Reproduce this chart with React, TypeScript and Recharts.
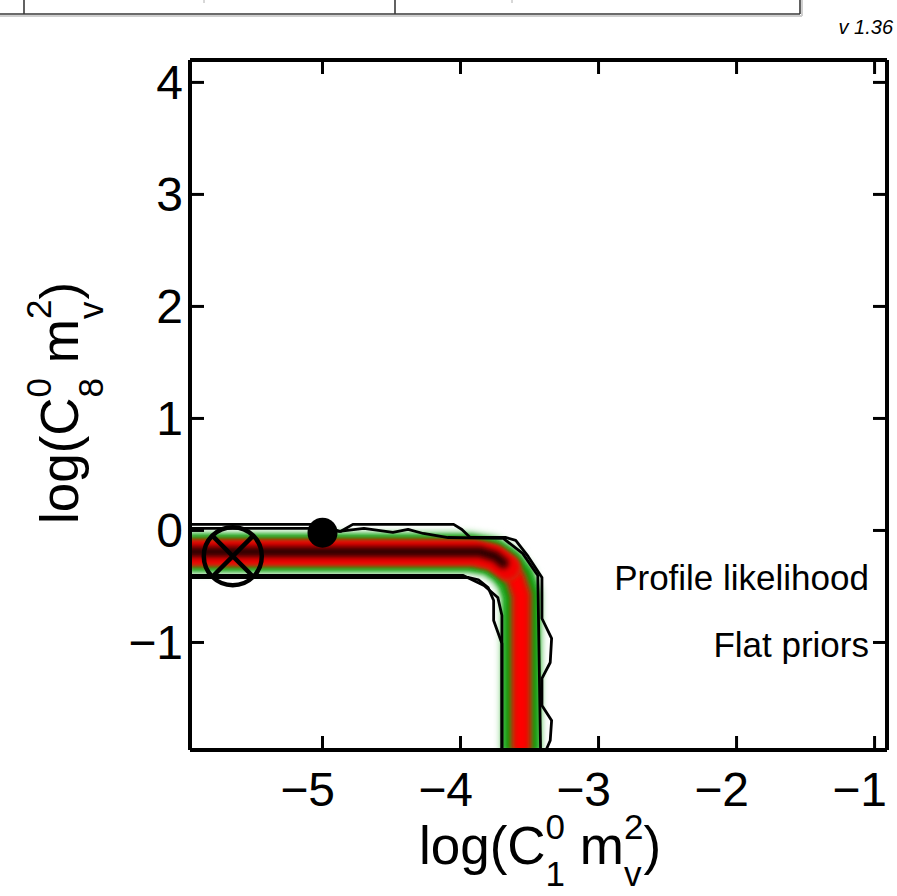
import React from "react";
import { ComposedChart, Line, Scatter, XAxis, YAxis } from "recharts";

const FONT = '"Liberation Sans", Arial, Helvetica, sans-serif';

// axis ranges and ticks
const xDomain = [-5.96, -0.91];
const yDomain = [-1.96, 4.2];
const xTicks = [-5, -4, -3, -2, -1];
const yTicks = [-1, 0, 1, 2, 3, 4];

// ridge of the profile likelihood (centre line of the coloured band)
const bandPath = [
  { x: -5.96, y: -0.2 },
  { x: -3.93, y: -0.2 },
  { x: -3.78, y: -0.23 },
  { x: -3.67, y: -0.32 },
  { x: -3.6, y: -0.43 },
  { x: -3.56, y: -0.58 },
  { x: -3.56, y: -1.96 },
];

// horizontal arm, where the red part is wider
const armPath = [
  { x: -5.96, y: -0.2 },
  { x: -3.9, y: -0.2 },
  { x: -3.76, y: -0.24 },
  { x: -3.66, y: -0.33 },
];

// darkest part of the ridge, along the horizontal arm only
const corePath = [
  { x: -5.96, y: -0.19 },
  { x: -3.86, y: -0.19 },
  { x: -3.75, y: -0.23 },
  { x: -3.69, y: -0.29 },
];

// outer contour (closed, runs along the frame where it leaves the plot)
const outerContour = [
  { x: -5.96, y: 0.054 },
  { x: -5.09, y: 0.054 },
  { x: -4.98, y: 0.036 },
  { x: -4.87, y: -0.009 },
  { x: -4.78, y: 0.054 },
  { x: -4.44, y: 0.054 },
  { x: -4.05, y: 0.054 },
  { x: -3.99, y: 0.009 },
  { x: -3.93, y: -0.063 },
  { x: -3.67, y: -0.063 },
  { x: -3.6, y: -0.089 },
  { x: -3.51, y: -0.232 },
  { x: -3.41, y: -0.42 },
  { x: -3.41, y: -0.786 },
  { x: -3.34, y: -0.964 },
  { x: -3.35, y: -1.179 },
  { x: -3.41, y: -1.321 },
  { x: -3.41, y: -1.562 },
  { x: -3.34, y: -1.696 },
  { x: -3.35, y: -1.875 },
  { x: -3.38, y: -1.96 },
  { x: -3.7, y: -1.96 },
  { x: -3.7, y: -1.009 },
  { x: -3.76, y: -0.804 },
  { x: -3.76, y: -0.625 },
  { x: -3.8, y: -0.509 },
  { x: -3.87, y: -0.44 },
  { x: -3.94, y: -0.42 },
  { x: -5.96, y: -0.42 },
  { x: -5.96, y: 0.054 },
];

// inner contour
const innerContour = [
  { x: -5.96, y: 0.018 },
  { x: -5.09, y: 0.018 },
  { x: -4.88, y: -0.009 },
  { x: -4.7, y: 0.018 },
  { x: -4.49, y: -0.018 },
  { x: -4.38, y: 0.009 },
  { x: -4.27, y: -0.027 },
  { x: -4.09, y: -0.063 },
  { x: -3.69, y: -0.071 },
  { x: -3.55, y: -0.205 },
  { x: -3.44, y: -0.402 },
  { x: -3.42, y: -1.96 },
  { x: -3.7, y: -1.96 },
  { x: -3.7, y: -0.759 },
  { x: -3.73, y: -0.598 },
  { x: -3.83, y: -0.491 },
  { x: -3.98, y: -0.402 },
  { x: -5.96, y: -0.402 },
  { x: -5.96, y: 0.018 },
];

// markers
const bestFit = [{ x: -5.65, y: -0.23 }];
const truePoint = [{ x: -5.0, y: -0.02 }];

// band layers, widest first
const bandLayers = [
  { w: 50, c: "#ecf8ec" },
  { w: 43, c: "#b4e2b4" },
  { w: 38, c: "#48b848" },
  { w: 33, c: "#0c9e0c" },
  { w: 23, c: "#8a5a10" },
  { w: 16, c: "#e21000" },
  { w: 9, c: "#ff0000" },
];
const armLayers = [
  { w: 27, c: "#c83008" },
  { w: 23, c: "#f20000" },
];
const coreLayers = [
  { w: 15, c: "#b00000" },
  { w: 9, c: "#600000" },
  { w: 4, c: "#200000" },
];

const fmt = (v: number) => (v < 0 ? "\u2212" + Math.abs(v) : String(v));

const BottomTick = (props: any) => {
  const { x, y, payload } = props;
  return (
    <g>
      <line x1={x} y1={y} x2={x} y2={y - 14} stroke="#000" strokeWidth={3} />
      <text x={x - 15} y={y + 56} textAnchor="middle" fontSize={48} fontFamily={FONT} fill="#000">
        {fmt(payload.value)}
      </text>
    </g>
  );
};

const TopTick = (props: any) => {
  const { x, y } = props;
  return <line x1={x} y1={y} x2={x} y2={y + 14} stroke="#000" strokeWidth={3} />;
};

const LeftTick = (props: any) => {
  const { x, y, payload } = props;
  return (
    <g>
      <line x1={x} y1={y} x2={x + 14} y2={y} stroke="#000" strokeWidth={3} />
      <text x={x - 7} y={y + 17} textAnchor="end" fontSize={48} fontFamily={FONT} fill="#000">
        {fmt(payload.value)}
      </text>
    </g>
  );
};

const RightTick = (props: any) => {
  const { x, y } = props;
  return <line x1={x} y1={y} x2={x - 14} y2={y} stroke="#000" strokeWidth={3} />;
};

const CrossedCircle = (props: any) => {
  const { cx, cy } = props;
  const r = 29;
  const d = r * Math.SQRT1_2;
  return (
    <g stroke="#000" strokeWidth={4.5} fill="none">
      <circle cx={cx} cy={cy} r={r} />
      <line x1={cx - d} y1={cy - d} x2={cx + d} y2={cy + d} />
      <line x1={cx - d} y1={cy + d} x2={cx + d} y2={cy - d} />
    </g>
  );
};

const FilledDot = (props: any) => <circle cx={props.cx} cy={props.cy} r={15} fill="#000" />;

const axisLine = { stroke: "#000", strokeWidth: 4 };

const ribbon = (data: any[], layers: { w: number; c: string }[], key: string, cap: "butt" | "round") =>
  layers.map((l, i) => (
    <Line
      key={key + i}
      className="soft"
      data={data}
      dataKey="y"
      type="linear"
      stroke={l.c}
      strokeWidth={l.w}
      strokeLinejoin="round"
      strokeLinecap={cap}
      dot={false}
      activeDot={false}
      isAnimationActive={false}
    />
  ));

export default function App() {
  return (
    <div style={{ position: "absolute", left: 0, top: 0, width: 897, height: 896, background: "#fff" }}>
      <style>{`.soft path.recharts-curve { filter: url(#soften); }`}</style>
      <ComposedChart width={897} height={896} margin={{ top: 50, right: 0, bottom: 126, left: 170 }}>
        <defs>
          <filter id="soften" filterUnits="userSpaceOnUse" x="0" y="0" width="897" height="896">
            <feGaussianBlur stdDeviation="2" />
          </filter>
        </defs>
        <XAxis
          dataKey="x"
          type="number"
          domain={xDomain}
          ticks={xTicks}
          interval={0}
          allowDataOverflow
          height={20}
          axisLine={axisLine}
          tickLine={false}
          tickSize={0}
          tickMargin={0}
          tick={<BottomTick />}
        />
        <XAxis
          xAxisId="top"
          orientation="top"
          dataKey="x"
          type="number"
          domain={xDomain}
          ticks={xTicks}
          interval={0}
          allowDataOverflow
          height={10}
          axisLine={axisLine}
          tickLine={false}
          tickSize={0}
          tickMargin={0}
          tick={<TopTick />}
        />
        <YAxis
          dataKey="y"
          type="number"
          domain={yDomain}
          ticks={yTicks}
          interval={0}
          allowDataOverflow
          width={20}
          axisLine={axisLine}
          tickLine={false}
          tickSize={0}
          tickMargin={0}
          tick={<LeftTick />}
        />
        <YAxis
          yAxisId="right"
          orientation="right"
          dataKey="y"
          type="number"
          domain={yDomain}
          ticks={yTicks}
          interval={0}
          allowDataOverflow
          width={10}
          axisLine={axisLine}
          tickLine={false}
          tickSize={0}
          tickMargin={0}
          tick={<RightTick />}
        />

        {ribbon(bandPath, bandLayers, "band", "butt")}
        {ribbon(armPath, armLayers, "arm", "round")}
        {ribbon(corePath, coreLayers, "core", "round")}

        <Line
          data={outerContour}
          dataKey="y"
          type="linear"
          stroke="#000"
          strokeWidth={2.8}
          strokeLinejoin="round"
          dot={false}
          activeDot={false}
          isAnimationActive={false}
        />
        <Line
          data={innerContour}
          dataKey="y"
          type="linear"
          stroke="#000"
          strokeWidth={2.8}
          strokeLinejoin="round"
          dot={false}
          activeDot={false}
          isAnimationActive={false}
        />

        <Scatter data={bestFit} dataKey="y" shape={<CrossedCircle />} isAnimationActive={false} />
        <Scatter data={truePoint} dataKey="y" shape={<FilledDot />} isAnimationActive={false} />
      </ComposedChart>

      <svg
        width={897}
        height={896}
        style={{ position: "absolute", left: 0, top: 0, pointerEvents: "none" }}
        fontFamily={FONT}
      >
        {/* lower edge of the panel above */}
        <g stroke="#cfcfcf" strokeWidth={2}>
          <line x1={0} y1={16} x2={802} y2={16} />
          <line x1={802} y1={0} x2={802} y2={16} />
        </g>
        <g stroke="#3a3a3a" strokeWidth={1.6}>
          <line x1={0} y1={14} x2={800} y2={14} />
          <line x1={800} y1={0} x2={800} y2={14} />
          <line x1={24} y1={0} x2={24} y2={14} />
          <line x1={395} y1={0} x2={395} y2={14} />
        </g>
        <g stroke="#b0b0b0" strokeWidth={1}>
          <line x1={204} y1={0} x2={204} y2={3} />
          <line x1={512} y1={0} x2={512} y2={3} />
        </g>
        <text x={893} y={34} textAnchor="end" fontSize={20} fontStyle="italic" fill="#000">
          v 1.36
        </text>

        <text x={869} y={590} textAnchor="end" fontSize={35} fill="#000">
          Profile likelihood
        </text>
        <text x={869} y={657} textAnchor="end" fontSize={35} fill="#000">
          Flat priors
        </text>

        <text x={540} y={864} textAnchor="middle" fontSize={53} fill="#000">
          log(C
          <tspan fontSize={35} dy={-25}>0</tspan>
          <tspan fontSize={35} dx={-19.5} dy={47}>1</tspan>
          <tspan dy={-22}> m</tspan>
          <tspan fontSize={35} dy={-25}>2</tspan>
          <tspan fontSize={35} dx={-19.5} dy={47}>v</tspan>
          <tspan dx={2} dy={-22}>)</tspan>
        </text>

        <text
          x={78}
          y={403}
          transform="rotate(-90 78 403)"
          textAnchor="middle"
          fontSize={53}
          fill="#000"
        >
          log(C
          <tspan fontSize={35} dy={-27}>0</tspan>
          <tspan fontSize={35} dx={-19.5} dy={52}>8</tspan>
          <tspan dy={-25}> m</tspan>
          <tspan fontSize={35} dy={-27}>2</tspan>
          <tspan fontSize={35} dx={-19.5} dy={52}>v</tspan>
          <tspan dx={2} dy={-25}>)</tspan>
        </text>
      </svg>
    </div>
  );
}
